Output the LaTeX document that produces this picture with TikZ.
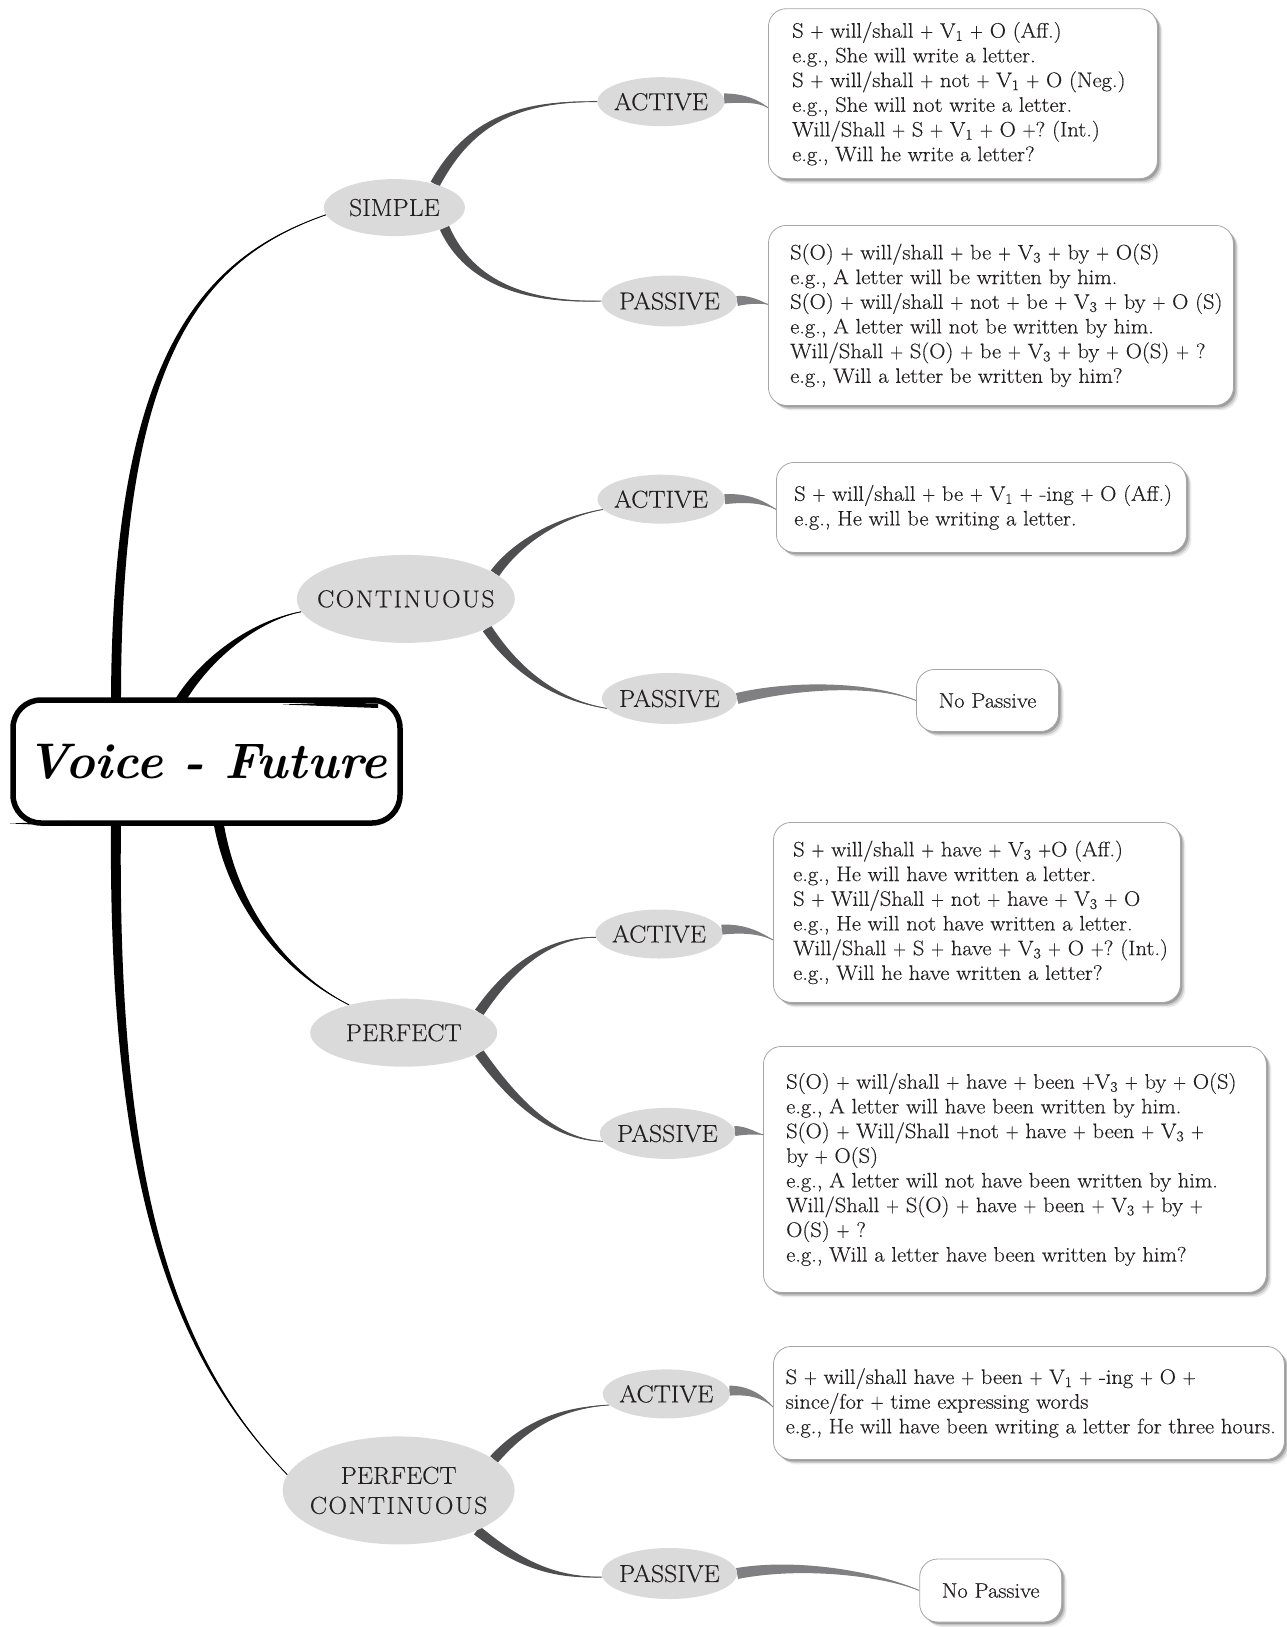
\documentclass[tikz,border=0pt]{standalone}
\usepackage{fontspec}
\newfontfamily\bodyfont{Latin Modern Roman}[FakeStretch=1.07, FakeBold=0.35]
\newfontfamily\labfont{Latin Modern Roman}[FakeStretch=1.05, FakeBold=0.25]
\usetikzlibrary{shapes.geometric,shadows,calc}
\definecolor{ellfill}{RGB}{218,218,218}
\definecolor{darkc}{RGB}{78,78,80}
\definecolor{lightc}{RGB}{128,128,130}
\definecolor{ink}{RGB}{35,31,32}
\newcommand\vs[1]{\textsubscript{#1}}
\newcommand\pl{\scalebox{0.8}[1]{+}}
\newcommand\cl[1]{\makebox[0pt]{#1}}
\newcommand\wide[1]{{\addfontfeature{LetterSpace=6}#1}}
% tapered connector: colour, start, control 1, control 2, end, half width at start
\newcommand\taper[6]{%
  \pgfmathsetlengthmacro\tpw{#6}%
  \pgfmathsetlengthmacro\tpc{0.85*#6}%
  \pgfmathsetlengthmacro\tpd{0.3*#6}%
  \fill[#1] ($#2!\tpw!90:#3$) .. controls ($#3!\tpc!-90:#2$) and ($#4!\tpd!90:#5$) .. #5
     .. controls ($#4!\tpd!-90:#5$) and ($#3!\tpc!90:#2$) .. ($#2!\tpw!-90:#3$) -- cycle;
  \draw[#1, line width=0.9pt] #2 .. controls #3 and #4 .. #5;
}
\pgfdeclarelayer{bg}
\pgfsetlayers{bg,main}
\tikzset{
  ell/.style={ellipse, fill=ellfill, inner sep=0pt, text=ink,
    font=\labfont\fontsize{24.5}{30}\selectfont, align=center},
  tbox/.style={rectangle, rounded corners=18pt, draw=black!35, line width=0.8pt,
    fill=white, inner sep=0pt,
    drop shadow={shadow xshift=5pt, shadow yshift=-5pt, fill=black, opacity=0.08},
    drop shadow={shadow xshift=3.5pt, shadow yshift=-3.5pt, fill=black, opacity=0.14},
    drop shadow={shadow xshift=2pt, shadow yshift=-2pt, fill=black, opacity=0.22}},
  btext/.style={anchor=west, align=left, inner sep=0pt, text=ink,
    font=\bodyfont\fontsize{21}{24.7}\selectfont},
  titlebox/.style={draw=black, line width=5.5pt, rounded corners=28pt, fill=white,
    inner sep=0pt, font=\fontsize{50}{52}\selectfont\bfseries\itshape},
}
\begin{document}
\begin{tikzpicture}[x=1pt, y=-1pt]
\useasboundingbox (0,0) rectangle (1287,1627);

% title
\node[titlebox, minimum width=387pt, minimum height=123pt] (title) at (206.5,761.5) {Voice - Future};
\fill (10,823.5) -- (70,820.8) -- (70,826) -- cycle;
\fill (283,704.5) .. controls (330,702.5) .. (378,703.5) -- (378,708) .. controls (330,707) .. (283,704.5) -- cycle;

% category ellipses
\node[ell, minimum width=141pt, minimum height=57pt] (simple) at (394.4,207.6) {\cl{SIMPLE}};
\node[ell, minimum width=218pt, minimum height=88pt] (cont) at (405.8,598.9) {\cl{\wide{CONTINUOUS}}};
\node[ell, minimum width=187pt, minimum height=68pt] (perf) at (403.7,1032.7) {\cl{PERFECT}};
\node[ell, minimum width=232pt, minimum height=108pt] (pc) at (398.6,1490.4) {\cl{PERFECT}\\\cl{\wide{CONTINUOUS}}};

% sub ellipses
\node[ell, minimum width=127pt, minimum height=49pt] (sa) at (661,101.7) {\cl{ACTIVE}};
\node[ell, minimum width=135pt, minimum height=51pt] (sp) at (669.4,301) {\cl{PASSIVE}};
\node[ell, minimum width=127pt, minimum height=49pt] (ca) at (661,499.2) {\cl{ACTIVE}};
\node[ell, minimum width=135pt, minimum height=51pt] (cp) at (669.4,698.5) {\cl{PASSIVE}};
\node[ell, minimum width=127pt, minimum height=49pt] (pa) at (659,934) {\cl{ACTIVE}};
\node[ell, minimum width=135pt, minimum height=51pt] (pp) at (667.4,1133.4) {\cl{PASSIVE}};
\node[ell, minimum width=127pt, minimum height=49pt] (pca) at (666.3,1393.9) {\cl{ACTIVE}};
\node[ell, minimum width=135pt, minimum height=51pt] (pcp) at (669.4,1573.5) {\cl{PASSIVE}};

% text boxes
\node[tbox, minimum width=389pt, minimum height=170pt, anchor=north west] (b1) at (768,8.3) {};
\node[btext] (bt1) at ($(b1.west)+(24,0)$) {S \pl{} will/shall \pl{} V\vs{1} \pl{} O (Aff.)\\
e.g., She will write a letter.\\
S \pl{} will/shall \pl{} not \pl{} V\vs{1} \pl{} O (Neg.)\\
e.g., She will not write a letter.\\
Will/Shall \pl{} S \pl{} V\vs{1} \pl{} O \pl?\ (Int.)\\
e.g., Will he write a letter?};

\node[tbox, minimum width=465pt, minimum height=180pt, anchor=north west] (b2) at (768,225) {};
\node[btext] (bt2) at ($(b2.west)+(22,0)$) {S(O) \pl{} will/shall \pl{} be \pl{} V\vs{3} \pl{} by \pl{} O(S)\\
e.g., A letter will be written by him.\\
S(O) \pl{} will/shall \pl{} not \pl{} be \pl{} V\vs{3} \pl{} by \pl{} O (S)\\
e.g., A letter will not be written by him.\\
Will/Shall \pl{} S(O) \pl{} be \pl{} V\vs{3} \pl{} by \pl{} O(S) \pl{} ?\\
e.g., Will a letter be written by him?};

\node[tbox, minimum width=410pt, minimum height=90pt, anchor=north west] (b3) at (776,462) {};
\node[btext] (bt3) at ($(b3.west)+(18,0)$) {S \pl{} will/shall \pl{} be \pl{} V\vs{1} \pl{} -ing \pl{} O (Aff.)\\
e.g., He will be writing a letter.};

\node[tbox, minimum width=142pt, minimum height=62pt, font=\bodyfont\fontsize{21}{24.7}\selectfont, text=ink] (np1) at (987.5,700.5) {No Passive};

\node[tbox, minimum width=407pt, minimum height=180pt, anchor=north west] (b5) at (773,822) {};
\node[btext] (bt5) at ($(b5.west)+(20,0)$) {S \pl{} will/shall \pl{} have \pl{} V\vs{3} \pl{}O (Aff.)\\
e.g., He will have written a letter.\\
S \pl{} Will/Shall \pl{} not \pl{} have \pl{} V\vs{3} \pl{} O\\
e.g., He will not have written a letter.\\
Will/Shall \pl{} S \pl{} have \pl{} V\vs{3} \pl{} O \pl?\ (Int.)\\
e.g., Will he have written a letter?};

\node[tbox, minimum width=503pt, minimum height=246pt, anchor=north west] (b6) at (763,1046) {};
\node[btext] (bt6) at ($(b6.west)+(23,0)$) {S(O) \pl{} will/shall \pl{} have \pl{} been \pl{}V\vs{3} \pl{} by \pl{} O(S)\\
e.g., A letter will have been written by him.\\
S(O) \pl{} Will/Shall \pl{}not \pl{} have \pl{} been \pl{} V\vs{3} \pl{}\\
by \pl{} O(S)\\
e.g., A letter will not have been written by him.\\
Will/Shall \pl{} S(O) \pl{} have \pl{} been \pl{} V\vs{3} \pl{} by \pl{}\\
O(S) \pl{} ?\\
e.g., Will a letter have been written by him?};

\node[tbox, minimum width=511pt, minimum height=113pt, anchor=north west] (b7) at (773,1346) {};
\node[btext] (bt7) at ($(b7.west)+(12.5,0)$) {S \pl{} will/shall have \pl{} been \pl{} V\vs{1} \pl{} -ing \pl{} O \pl{}\\
since/for \pl{} time expressing words\\
e.g., He will have been writing a letter for three hours.};

\node[tbox, minimum width=142pt, minimum height=63pt, font=\bodyfont\fontsize{21}{24.7}\selectfont, text=ink] (np2) at (990.7,1590.5) {No Passive};

\begin{pgfonlayer}{bg}
% title -> categories
\coordinate (t1) at ($(title.north)+(-90.5,6)$);
\coordinate (t2) at ($(title.north)+(-28,6)$);
\coordinate (t3) at ($(title.south)+(11.5,-6)$);
\coordinate (t4) at ($(title.south)+(-90.5,-6)$);
\taper{black}{(t1)}{(116,363)}{(197,259.5)}{(simple.186)}{5pt}
\taper{black}{(t2)}{(207.6,654)}{(259.5,619.6)}{(cont.187)}{5pt}
\taper{black}{(t3)}{(233.5,913)}{(290.6,975.6)}{(perf.153)}{5pt}
\taper{black}{(t4)}{(112,1193.6)}{(176.4,1359.6)}{(pc.172)}{5pt}
% categories -> subs
\taper{darkc}{(simple.30)}{(470,120)}{(520,101)}{(sa.west)}{5pt}
\taper{darkc}{(simple.-22)}{(470,285)}{(530,303)}{(sp.west)}{5pt}
\taper{darkc}{(cont.16)}{(515,545)}{(555,518)}{(ca.190)}{5pt}
\taper{darkc}{(cont.-20)}{(515,670)}{(555,700)}{(cp.189)}{5pt}
\taper{darkc}{(perf.15)}{(515,960)}{(555,937)}{(pa.183)}{5pt}
\taper{darkc}{(perf.-15)}{(520,1110)}{(560,1140)}{(pp.187)}{5pt}
\taper{darkc}{(pc.18)}{(525,1425)}{(560,1408)}{(pca.191)}{5pt}
\taper{darkc}{(pc.-27)}{(520,1565)}{(555,1578)}{(pcp.183)}{5pt}
% subs -> boxes
\coordinate (e1) at ($(b1.west)+(0,14)$);
\coordinate (e2) at ($(b2.west)+(0,-11)$);
\coordinate (e3) at ($(b3.west)+(0,2)$);
\coordinate (e5) at ($(b5.west)+(0,27.5)$);
\coordinate (e6) at ($(b6.west)+(0,-34.6)$);
\coordinate (e7) at ($(b7.west)+(0,4)$);
\taper{lightc}{(sa.3)}{(745,98)}{(758,101)}{(e1)}{5pt}
\taper{lightc}{(sp.east)}{(750,299)}{(760,302)}{(e2)}{5pt}
\taper{lightc}{(ca.east)}{(750,497)}{(765,503)}{(e3)}{5pt}
\taper{lightc}{(cp.east)}{(790,685)}{(870,682)}{(np1.west)}{5.5pt}
\taper{lightc}{(pa.4)}{(745,928)}{(760,933)}{(e5)}{5pt}
\taper{lightc}{(pp.2)}{(745,1130)}{(755,1133)}{(e6)}{5pt}
\taper{lightc}{(pca.3)}{(750,1390)}{(763,1397)}{(e7)}{5pt}
\taper{lightc}{(pcp.east)}{(800,1562)}{(880,1574)}{(np2.west)}{5.5pt}
\end{pgfonlayer}
\end{tikzpicture}
\end{document}
